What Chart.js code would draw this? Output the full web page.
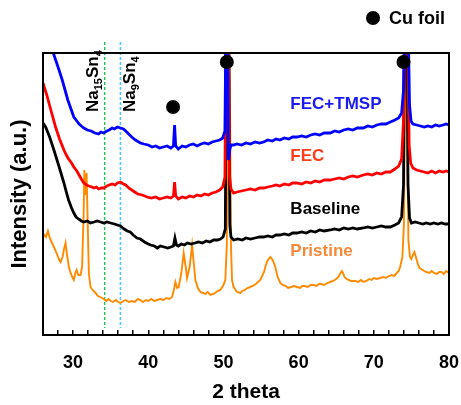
<!DOCTYPE html>
<html>
<head>
<meta charset="utf-8">
<script src="https://cdn.jsdelivr.net/npm/chart.js@4/dist/chart.umd.min.js"></script>
<style>
  html, body { margin: 0; padding: 0; background: #ffffff; }
  #wrap { width: 461px; height: 405px; }
</style>
</head>
<body>
<div id="wrap"><canvas id="c" width="461" height="405"></canvas></div>
<script>
// ---- data (2 theta in degrees, intensity in arbitrary units) ----
const fecTmspTheta = [26.0,26.7,27.37,28.0,28.56,29.3,30.1,30.5,30.8,31.1,31.43,31.9,32.4,32.9,33.4,33.7,34.05,34.5,34.8,35.2,35.5,35.9,36.3,36.7,37.0,37.4,37.8,38.3,38.96,39.4,40.0,40.5,41.0,41.5,42.0,42.5,43.0,43.35,43.5,43.65,44.0,44.5,45.0,45.5,46.0,46.5,47.0,47.5,48.0,48.5,49.0,49.5,49.9,50.2,50.35,50.5,50.65,50.8,51.0,51.35,51.8,52.4,53.0,53.6,54.2,54.8,55.34,55.9,56.5,57.0,57.5,58.1,58.7,59.2,59.78,60.4,61.0,61.6,62.2,62.8,63.4,64.2,64.8,65.4,66.0,66.6,67.2,67.8,68.6,69.2,69.8,70.4,71.0,71.6,72.2,72.8,73.3,73.7,73.95,74.15,74.35,74.55,74.75,74.95,75.2,75.7,76.2,76.7,77.2,77.7,78.2,78.7,79.2,79.6,80.0];
const fecTmspIntensity = [320,300,282,268,255,235,218,214,211,209,207,205,204,202,201,203,202,204,205,207,206,208,207,206,204,201,198,195,192,191,190,188,189,187,188,189,187,189,210,189,186,189,188,190,191,189,191,192,191,193,194,195,197,204,330,400,175,184,190,190,191,190,192,191,193,192,193,195,194,196,195,197,196,198,198,199,198,200,201,200,202,202,204,203,205,206,205,207,207,209,208,210,211,211,213,215,217,222,245,330,400,320,230,214,211,210,209,208,209,208,210,209,210,211,210];

const fecTheta = [26.0,26.2,26.5,26.9,27.3,27.67,28.2,28.78,29.1,29.4,29.8,30.1,30.5,30.8,31.1,31.43,31.8,32.1,32.5,32.76,33.1,33.4,33.8,34.09,34.5,34.8,35.2,35.6,35.9,36.3,36.7,37.0,37.4,37.8,38.2,38.6,39.2,39.85,40.4,41.0,41.5,42.0,42.5,43.0,43.35,43.5,43.65,44.0,44.5,45.0,45.5,46.0,46.5,47.0,47.5,48.0,48.5,49.0,49.5,49.9,50.2,50.35,50.5,50.65,50.8,51.0,51.35,51.8,52.4,53.0,53.6,54.2,54.8,55.34,55.9,56.5,57.0,57.5,58.1,58.7,59.2,59.78,60.4,61.0,61.6,62.2,62.8,63.4,64.2,64.8,65.4,66.0,66.6,67.2,67.8,68.6,69.2,69.8,70.4,71.0,71.6,72.2,72.8,73.3,73.7,73.95,74.15,74.3,74.5,74.7,74.9,75.2,75.7,76.2,76.7,77.2,77.7,78.2,78.7,79.2,79.6,80.0];
const fecIntensity = [252,247,240,229,218,208,196,185,180,176,172,168,164,160,156,152,150,149,148,147,148,146,147,147,149,150,151,150,152,153,151,150,147,145,143,141,140,138,137,138,136,137,138,137,139,153,139,136,138,137,139,138,140,139,141,140,142,143,145,148,158,330,400,320,160,146,142,143,144,145,146,145,147,147,148,149,150,149,151,150,152,152,151,153,152,154,153,155,155,156,157,156,158,159,158,160,161,160,162,161,163,163,166,169,176,215,340,400,300,190,172,167,165,164,163,162,164,162,164,163,164,163];

const baselineTheta = [26.0,26.35,26.88,27.45,28.07,28.78,29.1,29.4,29.8,30.1,30.4,30.73,31.1,31.43,31.9,32.3,32.8,33.2,33.65,34.1,34.5,34.98,35.5,35.9,36.3,36.8,37.2,37.6,38.0,38.5,38.96,39.5,40.0,40.3,40.8,41.2,41.6,42.1,42.6,43.0,43.35,43.55,43.75,44.0,44.4,44.8,45.2,45.7,46.2,46.7,47.2,47.7,48.2,48.7,49.2,49.6,49.95,50.25,50.4,50.55,50.7,50.85,51.0,51.35,51.9,52.5,53.0,53.6,54.2,54.8,55.34,55.9,56.5,57.0,57.5,58.1,58.7,59.2,59.78,60.4,61.0,61.6,62.2,62.8,63.4,64.2,64.8,65.4,66.0,66.6,67.2,67.8,68.6,69.2,69.8,70.4,71.0,71.6,72.2,72.8,73.3,73.7,73.95,74.1,74.25,74.4,74.55,74.75,75.0,75.5,76.0,76.5,77.0,77.5,78.0,78.5,79.0,79.5,80.0];
const baselineIntensity = [212,208,198,185,170,152,143,135,127,122,118,116,114,113,114,112,113,114,113,112,113,112,111,110,109,106,104,103,100,97,96,93,91,90,89,87,89,88,87,88,89,97,90,89,91,90,92,91,92,93,92,94,93,95,95,96,98,106,330,400,300,110,98,95,96,95,97,96,97,98,98,99,98,100,100,101,100,102,102,103,102,104,103,105,104,105,106,105,107,106,107,106,107,108,107,108,109,108,108,110,112,118,150,330,400,300,150,117,112,113,112,111,112,111,112,111,112,111,111];

const pristineTheta = [26.0,26.21,26.4,26.65,26.9,27.2,27.45,27.8,28.1,28.34,28.6,28.8,29.0,29.2,29.45,29.67,29.9,30.1,30.3,30.46,30.7,30.99,31.2,31.4,31.5,31.65,31.8,31.95,32.1,32.32,32.6,32.99,33.3,33.6,34.09,34.4,34.7,35.0,35.3,35.7,36.0,36.3,36.7,37.0,37.4,37.8,38.2,38.6,38.96,39.3,39.7,40.0,40.4,40.8,41.18,41.6,42.0,42.4,42.8,43.17,43.4,43.61,43.85,44.05,44.4,44.71,44.95,45.16,45.5,45.83,46.05,46.27,46.6,46.93,47.3,47.6,47.9,48.26,48.6,48.9,49.2,49.59,50.0,50.25,50.45,50.6,50.7,50.85,51.0,51.14,51.35,51.8,52.24,52.5,52.8,53.2,53.57,53.9,54.3,54.6,54.9,55.2,55.4,55.6,55.79,56.0,56.23,56.45,56.6,56.9,57.2,57.56,57.9,58.3,58.6,59.0,59.4,59.78,60.2,60.5,60.8,61.2,61.6,61.98,62.4,62.7,63.0,63.4,63.8,64.2,64.6,65.0,65.3,65.5,65.75,65.9,66.1,66.4,66.63,67.0,67.5,67.9,68.3,68.6,69.0,69.4,69.7,70.0,70.4,70.85,71.3,71.6,72.0,72.4,72.7,73.05,73.3,73.5,73.8,74.0,74.15,74.3,74.45,74.6,74.8,75.0,75.2,75.4,75.6,75.9,76.1,76.3,76.7,77.0,77.4,77.7,78.0,78.4,78.7,79.0,79.3,79.6,80.0];
const pristineIntensity = [97,100,98,104,97,92,88,82,76,73,78,86,92,80,68,62,58,55,62,65,60,60,68,120,165,140,162,110,62,48,45,42,39,38,36,34,36,34,33,35,33,32,34,35,33,34,33,36,35,33,35,34,36,34,35,36,35,37,36,38,45,53,47,48,62,82,70,57,68,90,72,55,47,43,42,41,43,40,41,42,44,45,50,55,90,330,400,260,90,55,48,43,42,44,45,47,48,49,51,53,55,60,63,69,73,76,78,76,74,68,58,52,50,49,47,48,49,48,47,49,49,48,50,50,49,51,51,50,52,53,54,56,58,61,64,62,58,56,55,54,54,53,55,53,54,56,55,57,56,57,58,57,59,60,59,62,64,68,78,110,250,400,200,95,78,76,80,83,78,70,67,66,64,63,62,64,62,61,63,63,61,64,62];

// Cu foil reflection markers
const cuTheta = [43.3, 50.45, 73.95];
const cuIntensity = [228, 273, 273];

// reference phase lines (2 theta)
const phaseNames = ['Na15Sn4', 'Na9Sn4'];
const phaseTheta = [34.2, 36.3];

// series names and label anchors
const seriesNames = ['FEC+TMSP', 'FEC', 'Baseline', 'Pristine'];
const labelTheta = [58.9, 58.9, 58.9, 58.9];
const labelIntensity = [231, 179, 126, 84];

// x axis tick labels
const xTickLabels = [30, 40, 50, 60, 70, 80];

const FONT = "'Liberation Sans', Arial, Helvetica, sans-serif";
Chart.defaults.font.family = FONT;

const pts = (xs, ys) => xs.map((x, i) => ({x: x, y: ys[i]}));

const lineColors = ['#0000ff', '#ff0000', '#000000', '#ff8a00'];
const labelColors = ['#1a1af0', '#ff3b1a', '#000000', '#f5893a'];

const annotations = {
  id: 'annotations',
  afterDatasetsDraw(chart) {
    const {ctx, chartArea, scales: {x, y}} = chart;
    ctx.save();
    // plot frame
    ctx.strokeStyle = '#000';
    ctx.lineWidth = 2;
    ctx.strokeRect(chartArea.left, chartArea.top, chartArea.right - chartArea.left, chartArea.bottom - chartArea.top);

    // series labels
    ctx.font = 'bold 17px ' + FONT;
    ctx.textBaseline = 'middle';
    ctx.textAlign = 'left';
    seriesNames.forEach((n, i) => {
      ctx.fillStyle = labelColors[i];
      ctx.fillText(n, x.getPixelForValue(labelTheta[i]), y.getPixelForValue(labelIntensity[i]));
    });

    // phase labels, rotated, with subscripts
    const drawFormula = (parts, bx, by) => {
      ctx.save();
      ctx.translate(bx, by);
      ctx.rotate(-Math.PI / 2);
      ctx.textAlign = 'left';
      ctx.textBaseline = 'alphabetic';
      ctx.fillStyle = '#000';
      let u = 0;
      parts.forEach(p => {
        ctx.font = p.sub ? 'bold 11px ' + FONT : 'bold 17px ' + FONT;
        ctx.fillText(p.t, u, p.sub ? 4 : 0);
        u += ctx.measureText(p.t).width;
      });
      ctx.restore();
    };
    const splitFormula = (s) => {
      const out = [];
      const re = /([A-Za-z]+)(\d*)/g;
      let m;
      while ((m = re.exec(s))) {
        if (!m[0]) break;
        out.push({t: m[1], sub: false});
        if (m[2]) out.push({t: m[2], sub: true});
      }
      return out;
    };
    const labelBottom = y.getPixelForValue(223);
    drawFormula(splitFormula(phaseNames[0]), x.getPixelForValue(phaseTheta[0]) - 7, labelBottom);
    drawFormula(splitFormula(phaseNames[1]), x.getPixelForValue(phaseTheta[1]) + 15, labelBottom);

    // Cu foil legend
    const lx = chartArea.right - 76, ly = chartArea.top - 35;
    ctx.fillStyle = '#000';
    ctx.beginPath();
    ctx.arc(lx, ly, 7, 0, Math.PI * 2);
    ctx.fill();
    ctx.font = 'bold 18px ' + FONT;
    ctx.textBaseline = 'middle';
    ctx.fillText('Cu foil', lx + 16, ly + 1);
    ctx.restore();
  }
};

const phaseColors = ['#1fbf55', '#4fc6f2'];

new Chart(document.getElementById('c'), {
  type: 'scatter',
  data: {
    datasets: [
      {
        label: 'Cu foil', data: pts(cuTheta, cuIntensity), showLine: false,
        pointRadius: 7, pointHoverRadius: 7, backgroundColor: '#000', borderColor: '#000', borderWidth: 0,
        clip: false, order: 0
      },
      {
        label: seriesNames[0], data: pts(fecTmspTheta, fecTmspIntensity), showLine: true,
        borderColor: lineColors[0], borderWidth: 2.8, pointRadius: 0, tension: 0, order: 1
      },
      {
        label: seriesNames[1], data: pts(fecTheta, fecIntensity), showLine: true,
        borderColor: lineColors[1], borderWidth: 2.8, pointRadius: 0, tension: 0, order: 2
      },
      {
        label: seriesNames[2], data: pts(baselineTheta, baselineIntensity), showLine: true,
        borderColor: lineColors[2], borderWidth: 2.8, pointRadius: 0, tension: 0, order: 3
      },
      {
        label: seriesNames[3], data: pts(pristineTheta, pristineIntensity), showLine: true,
        borderColor: lineColors[3], borderWidth: 1.9, pointRadius: 0, tension: 0, order: 4
      },
      {
        label: phaseNames[0], data: [{x: phaseTheta[0], y: 293}, {x: phaseTheta[0], y: 7}], showLine: true,
        borderColor: phaseColors[0], borderWidth: 1.4, borderDash: [3, 2], pointRadius: 0, clip: false, order: 5
      },
      {
        label: phaseNames[1], data: [{x: phaseTheta[1], y: 293}, {x: phaseTheta[1], y: 7}], showLine: true,
        borderColor: phaseColors[1], borderWidth: 1.6, borderDash: [3, 2], pointRadius: 0, clip: false, order: 6
      }
    ]
  },
  options: {
    responsive: false,
    animation: false,
    events: [],
    layout: { padding: { top: 53, right: 12, left: 0, bottom: 0 } },
    plugins: { legend: { display: false }, tooltip: { enabled: false } },
    scales: {
      x: {
        type: 'linear', min: 26, max: 80,
        border: { display: false },
        grid: { drawOnChartArea: false, drawTicks: true, tickLength: -5, color: '#000', lineWidth: 1.5 },
        ticks: {
          stepSize: 2, autoSkip: false, maxRotation: 0, padding: 22,
          color: '#000', font: { size: 18, weight: 'bold' },
          callback: (v) => xTickLabels.includes(v) ? String(v) : ''
        },
        title: { display: true, text: '2 theta', color: '#000', font: { size: 21, weight: 'bold' }, padding: { top: 0, bottom: 0 } },
        afterFit: (s) => { s.height = 70; s.paddingLeft = 0; s.paddingRight = 0; }
      },
      y: {
        type: 'linear', min: 0, max: 282,
        border: { display: false },
        grid: { display: false },
        ticks: { display: false },
        title: { display: true, text: 'Intensity (a.u.)', color: '#000', font: { size: 22, weight: 'bold' }, padding: { top: 7, bottom: 0 } },
        afterFit: (s) => { s.width = 43; s.paddingTop = 0; s.paddingBottom = 0; }
      }
    }
  },
  plugins: [annotations]
});
</script>
</body>
</html>
